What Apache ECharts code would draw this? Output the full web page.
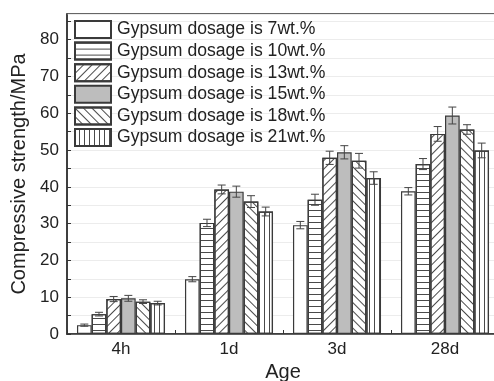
<!DOCTYPE html>
<html>
<head>
<meta charset="utf-8">
<script src="https://cdn.jsdelivr.net/npm/echarts@6/dist/echarts.min.js"></script>
<style>
  html, body { margin: 0; padding: 0; background: #fff; }
  #chart { width: 494px; height: 381px; }
</style>
</head>
<body>
<div id="chart"></div>
<script>
// Compressive strength by curing age for six gypsum dosages (mean ± error)
const categories = ['4h', '1d', '3d', '28d'];
const seriesNames = [
  'Gypsum dosage is 7wt.%',
  'Gypsum dosage is 10wt.%',
  'Gypsum dosage is 13wt.%',
  'Gypsum dosage is 15wt.%',
  'Gypsum dosage is 18wt.%',
  'Gypsum dosage is 21wt.%'
];
const strength7 = [2.4, 14.9, 29.6, 38.8];
const strength10 = [5.4, 30.2, 36.5, 46.2];
const strength13 = [9.5, 39.3, 47.9, 54.4];
const strength15 = [9.7, 38.7, 49.4, 59.4];
const strength18 = [8.8, 36.0, 47.1, 55.6];
const strength21 = [8.4, 33.3, 42.4, 49.9];
const error7 = [0.3, 0.7, 1.0, 1.0];
const error10 = [0.5, 1.0, 1.5, 1.5];
const error13 = [0.7, 1.2, 1.8, 2.0];
const error15 = [0.8, 1.5, 1.8, 2.3];
const error18 = [0.5, 1.6, 2.0, 1.3];
const error21 = [0.5, 1.2, 1.7, 2.0];
const yTickLabels = [0, 10, 20, 30, 40, 50, 60, 70, 80];

const values = [strength7, strength10, strength13, strength15, strength18, strength21];
const errors = [error7, error10, error13, error15, error18, error21];

const FONT = "'Liberation Sans', Arial, sans-serif";
const EDGE = '#3a3a3a';
const HATCH = '#4a4a4a';
const CATEGORY_GAP = 0.185;

// Fill pattern for each dosage
const fills = [
  { color: '#ffffff', decal: null },
  { color: '#ffffff', decal: { symbol: 'rect', symbolSize: 1, color: HATCH, dashArrayX: [1, 0], dashArrayY: [1, 5], rotation: 0 } },
  { color: '#ffffff', decal: { symbol: 'rect', symbolSize: 1, color: HATCH, dashArrayX: [1, 0], dashArrayY: [1, 5], rotation: -Math.PI / 4 } },
  { color: '#bdbdbd', decal: null },
  { color: '#ffffff', decal: { symbol: 'rect', symbolSize: 1, color: HATCH, dashArrayX: [1, 0], dashArrayY: [1, 5], rotation: Math.PI / 4 } },
  { color: '#ffffff', decal: { symbol: 'rect', symbolSize: 1, color: HATCH, dashArrayX: [1, 0], dashArrayY: [1, 4], rotation: Math.PI / 2 } }
];

const barSeries = seriesNames.map((name, i) => {
  const style = { color: fills[i].color, borderColor: EDGE, borderWidth: 1.2 };
  if (fills[i].decal) style.decal = fills[i].decal;
  return {
    name: name,
    type: 'bar',
    data: values[i],
    barGap: '0%',
    barCategoryGap: (CATEGORY_GAP * 100) + '%',
    itemStyle: style,
    emphasis: { disabled: true }
  };
});

// Error bar records: [category index, series index, value, error]
const errorData = [];
values.forEach((arr, k) => {
  arr.forEach((v, c) => errorData.push([c, k, v, errors[k][c]]));
});

const errorSeries = {
  type: 'custom',
  name: 'error',
  coordinateSystem: 'cartesian2d',
  z: 10,
  silent: true,
  encode: { x: 0, y: 2 },
  data: errorData,
  renderItem: function (params, api) {
    const c = api.value(0), k = api.value(1), v = api.value(2), e = api.value(3);
    const band = api.size([1, 0])[0];
    const barW = band * (1 - CATEGORY_GAP) / seriesNames.length;
    const x = api.coord([c, 0])[0] + (k - (seriesNames.length - 1) / 2) * barW;
    const yTop = api.coord([c, v + e])[1];
    const yBot = api.coord([c, v - e])[1];
    const cap = 4;
    const st = { stroke: '#444', lineWidth: 1 };
    return {
      type: 'group',
      children: [
        { type: 'line', shape: { x1: x, y1: yTop, x2: x, y2: yBot }, style: st },
        { type: 'line', shape: { x1: x - cap, y1: yTop, x2: x + cap, y2: yTop }, style: st },
        { type: 'line', shape: { x1: x - cap, y1: yBot, x2: x + cap, y2: yBot }, style: st }
      ]
    };
  }
};

const chart = echarts.init(document.getElementById('chart'), null, { renderer: 'canvas' });
chart.setOption({
  animation: false,
  backgroundColor: '#ffffff',
  textStyle: { fontFamily: FONT },
  grid: {
    left: 67, top: 14, width: 432, height: 320,
    outerBoundsMode: 'none',
    containLabel: false,
    show: true, borderColor: '#333', borderWidth: 1.5, backgroundColor: 'transparent'
  },
  legend: {
    data: seriesNames,
    orient: 'vertical',
    left: 74,
    top: 20,
    padding: 0,
    itemWidth: 36,
    itemHeight: 17,
    itemGap: 2.6,
    icon: 'rect',
    selectedMode: false,
    textStyle: { fontFamily: FONT, fontSize: 17.6, color: '#222', padding: [0, 0, 0, 1] }
  },
  xAxis: {
    type: 'category',
    data: categories,
    name: 'Age',
    nameLocation: 'middle',
    nameGap: 28,
    nameTextStyle: { fontFamily: FONT, fontSize: 20, color: '#222' },
    axisLine: { lineStyle: { color: '#333', width: 1.5 } },
    axisTick: { show: true, inside: true, length: 4, alignWithLabel: false, lineStyle: { color: '#333' } },
    axisLabel: { fontFamily: FONT, fontSize: 17, color: '#222', margin: 7 },
    splitLine: { show: false }
  },
  yAxis: {
    type: 'value',
    min: 0,
    max: 87,
    interval: 5,
    name: 'Compressive strength/MPa',
    nameLocation: 'middle',
    nameGap: 27,
    nameTextStyle: { fontFamily: FONT, fontSize: 20, color: '#222' },
    axisLine: { show: true, lineStyle: { color: '#333', width: 1.5 } },
    axisTick: { show: true, inside: true, length: 4, lineStyle: { color: '#333' } },
    axisLabel: {
      fontFamily: FONT, fontSize: 17, color: '#222', margin: 8, showMaxLabel: false,
      formatter: function (v) { return yTickLabels.indexOf(v) >= 0 ? String(v) : ''; }
    },
    splitLine: { show: true, lineStyle: { color: '#ececec', width: 1 } }
  },
  series: barSeries.concat([errorSeries])
});
</script>
</body>
</html>
